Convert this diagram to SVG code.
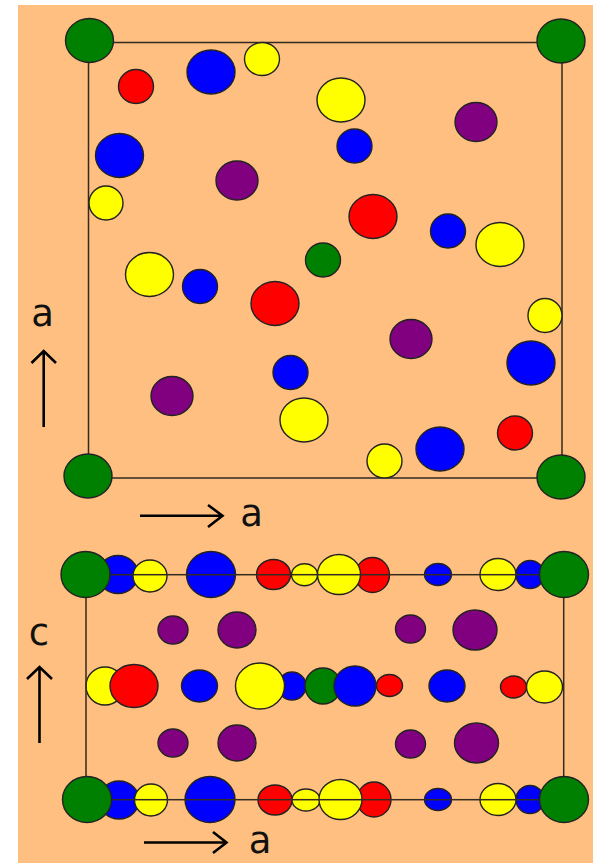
<svg xmlns="http://www.w3.org/2000/svg" width="598" height="863" viewBox="0 0 598 863">
<style>
ellipse{stroke:#222;stroke-width:1.4}
.g{fill:#008000}.b{fill:#0000ff}.y{fill:#ffff00}.r{fill:#ff0000}.p{fill:#800080}
.cell{fill:none;stroke:#332a20;stroke-width:1.5}
.ar{fill:none;stroke:#000;stroke-width:2.6}
text{font-family:"DejaVu Sans",Verdana,sans-serif;font-size:37px;fill:#111;text-anchor:middle}
</style>
<rect x="18" y="5" width="575" height="858" fill="#ffbf80"/>
<g id="connectors">
<rect class="cell" x="88.5" y="42.5" width="473.5" height="435.5"/>
<path class="ar" d="M43.7 427V352M31.5 363L43.7 351L56 363"/>
<path class="ar" d="M140 515.7H222M208 505L222.5 515.7L208 527"/>
<path class="ar" d="M39.5 743V668M27 679L39.5 667L52 679"/>
<path class="ar" d="M144 842.5H226M213 832L226.5 842.5L213 853"/>
</g>
<g id="top-atoms">
<ellipse id="t1" class="r" cx="136" cy="86.5" rx="17.5" ry="17"/>
<ellipse id="t2" class="b" cx="211" cy="72" rx="24" ry="22"/>
<ellipse id="t3" class="y" cx="262" cy="59" rx="17.5" ry="16.5"/>
<ellipse id="t4" class="y" cx="341" cy="100" rx="24" ry="22"/>
<ellipse id="t5" class="p" cx="476" cy="122" rx="21" ry="19.5"/>
<ellipse id="t6" class="b" cx="119.5" cy="155.5" rx="24" ry="22"/>
<ellipse id="t7" class="b" cx="354.5" cy="146" rx="17.5" ry="17"/>
<ellipse id="t8" class="p" cx="237" cy="180.5" rx="21" ry="19.5"/>
<ellipse id="t9" class="y" cx="106" cy="203" rx="17" ry="17"/>
<ellipse id="t10" class="r" cx="373" cy="216.5" rx="24" ry="22"/>
<ellipse id="t11" class="b" cx="448" cy="231" rx="17.5" ry="17"/>
<ellipse id="t12" class="y" cx="500" cy="244.5" rx="24" ry="22"/>
<ellipse id="t13" class="y" cx="149.5" cy="274.5" rx="24" ry="22"/>
<ellipse id="t14" class="b" cx="200" cy="286.5" rx="17.5" ry="17"/>
<ellipse id="t15" class="g" cx="323" cy="260" rx="17.5" ry="17"/>
<ellipse id="t16" class="r" cx="275" cy="303.5" rx="24" ry="22"/>
<ellipse id="t17" class="y" cx="545" cy="315.5" rx="17" ry="17"/>
<ellipse id="t18" class="p" cx="411" cy="339" rx="21" ry="19.5"/>
<ellipse id="t19" class="b" cx="531" cy="363" rx="24" ry="22"/>
<ellipse id="t20" class="b" cx="290.5" cy="372.5" rx="17.5" ry="17"/>
<ellipse id="t21" class="p" cx="172" cy="396" rx="21" ry="19.5"/>
<ellipse id="t22" class="y" cx="304" cy="420" rx="24" ry="22"/>
<ellipse id="t23" class="y" cx="384.5" cy="461" rx="17.5" ry="17"/>
<ellipse id="t24" class="b" cx="440" cy="449" rx="24" ry="22"/>
<ellipse id="t25" class="r" cx="515" cy="433" rx="17.5" ry="17"/>
<ellipse id="t26" class="g" cx="89.5" cy="40.5" rx="24" ry="22"/>
<ellipse id="t27" class="g" cx="561" cy="41" rx="24" ry="22"/>
<ellipse id="t28" class="g" cx="88" cy="476" rx="24" ry="22"/>
<ellipse id="t29" class="g" cx="561" cy="477" rx="24" ry="22"/>
</g>
<g id="side-atoms">
<ellipse class="b" cx="118" cy="574.5" rx="20" ry="19"/>
<ellipse class="y" cx="150" cy="576" rx="17" ry="16"/>
<ellipse class="b" cx="211" cy="574.5" rx="24.5" ry="23"/>
<ellipse class="r" cx="273.5" cy="574.5" rx="17" ry="15"/>
<ellipse class="r" cx="372.5" cy="575" rx="17" ry="17.5"/>
<ellipse class="y" cx="304.5" cy="574.7" rx="13" ry="11"/>
<ellipse class="y" cx="339" cy="574.5" rx="21.5" ry="20"/>
<ellipse class="b" cx="438" cy="574.5" rx="13.5" ry="11"/>
<ellipse class="b" cx="530" cy="574.5" rx="14" ry="14"/>
<ellipse class="y" cx="498" cy="574.5" rx="18" ry="16"/>
<ellipse class="p" cx="173" cy="630" rx="15" ry="14"/>
<ellipse class="p" cx="237" cy="630" rx="19" ry="18"/>
<ellipse class="p" cx="410.5" cy="629" rx="15" ry="14"/>
<ellipse class="p" cx="475" cy="630" rx="22" ry="20"/>
<ellipse class="y" cx="105" cy="686" rx="19" ry="19"/>
<ellipse class="r" cx="134" cy="686" rx="24" ry="21.5"/>
<ellipse class="b" cx="199.5" cy="686" rx="18" ry="16"/>
<ellipse class="b" cx="292" cy="686" rx="14" ry="14"/>
<ellipse class="y" cx="260" cy="686" rx="24.5" ry="23"/>
<ellipse class="g" cx="323" cy="686" rx="18" ry="18"/>
<ellipse class="b" cx="355" cy="686" rx="21" ry="20"/>
<ellipse class="r" cx="389.5" cy="685.5" rx="13" ry="11"/>
<ellipse class="b" cx="447" cy="686" rx="18" ry="16"/>
<ellipse class="r" cx="513.5" cy="687" rx="13" ry="11"/>
<ellipse class="y" cx="544.5" cy="687" rx="18" ry="16"/>
<ellipse class="p" cx="173" cy="743" rx="15" ry="14"/>
<ellipse class="p" cx="237" cy="743" rx="19" ry="18"/>
<ellipse class="p" cx="410.5" cy="744" rx="15" ry="14"/>
<ellipse class="p" cx="476.5" cy="743" rx="22" ry="20"/>
<ellipse class="b" cx="119" cy="800" rx="20" ry="19"/>
<ellipse class="y" cx="151" cy="800" rx="16.5" ry="16"/>
<ellipse class="b" cx="210" cy="799.5" rx="25" ry="23"/>
<ellipse class="r" cx="275" cy="800" rx="17" ry="15"/>
<ellipse class="r" cx="374" cy="799.5" rx="17" ry="17.5"/>
<ellipse class="y" cx="306" cy="800" rx="14" ry="11"/>
<ellipse class="y" cx="340.5" cy="799.5" rx="21.5" ry="20"/>
<ellipse class="b" cx="438" cy="799.5" rx="13.5" ry="11"/>
<ellipse class="b" cx="530" cy="799.5" rx="14" ry="14"/>
<ellipse class="y" cx="498" cy="799.5" rx="18" ry="16"/>
</g>
<g id="side-cell">
<rect class="cell" x="86" y="574.7" width="477.7" height="225"/>
</g>
<g id="side-corners">
<ellipse class="g" cx="85.5" cy="574.5" rx="24.5" ry="23"/>
<ellipse class="g" cx="564" cy="574.5" rx="24.5" ry="23"/>
<ellipse class="g" cx="87" cy="799.5" rx="24.5" ry="23"/>
<ellipse class="g" cx="564" cy="799.5" rx="24.5" ry="23"/>
</g>
<g id="labels">
<text x="42.5" y="325.5">a</text>
<text x="251.5" y="526">a</text>
<text x="39" y="645">c</text>
<text x="260" y="853">a</text>
</g>
</svg>
